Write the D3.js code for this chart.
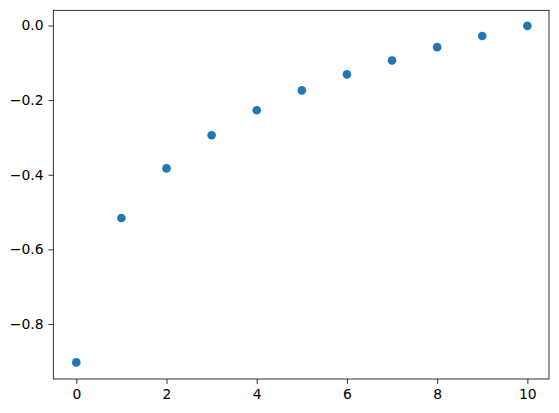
<!DOCTYPE html>
<html>
<head>
<meta charset="utf-8">
<script src="https://cdn.jsdelivr.net/npm/d3@7"></script>
<style>
  body { margin: 0; background: #fff; }
  svg { display: block; }
  text { font-family: "DejaVu Sans", sans-serif; font-size: 13.9px; fill: #000; }
</style>
</head>
<body>
<div id="chart"></div>
<script>
// data
const xs = [0, 1, 2, 3, 4, 5, 6, 7, 8, 9, 10]
const ys = [-0.903, -0.516, -0.383, -0.294, -0.227, -0.174, -0.131, -0.094, -0.058, -0.028, -0.001]
const xTicks = [0, 2, 4, 6, 8, 10]
const yTicks = [0.0, -0.2, -0.4, -0.6, -0.8]

let width = 559
let height = 413
let m_left = 53.3, m_right = 549, m_top = 10.3, m_bottom = 379

var svg = d3.select("#chart")
    .append("svg")
    .attr("width", width)
    .attr("height", height)

var x = d3.scaleLinear().domain([-0.51, 10.48]).range([m_left, m_right])
var y = d3.scaleLinear().domain([-0.9475, 0.0407]).range([m_bottom, m_top])

const fmtY = d => d3.format(".1f")(d).replace("-", "\u2212")

// x axis
const xAxis = svg.append("g")
    .attr("transform", `translate(0,${m_bottom})`)
    .call(d3.axisBottom(x).tickValues(xTicks).tickSize(4.86).tickPadding(4.86).tickFormat(d3.format("d")))
xAxis.select(".domain").remove()
xAxis.selectAll("line").attr("stroke", "#000").attr("stroke-width", 0.8)
xAxis.selectAll("text").attr("font-size", null).attr("font-family", null)

// y axis
const yAxis = svg.append("g")
    .attr("transform", `translate(${m_left},0)`)
    .call(d3.axisLeft(y).tickValues(yTicks).tickSize(4.86).tickPadding(4.86).tickFormat(fmtY))
yAxis.select(".domain").remove()
yAxis.selectAll("line").attr("stroke", "#000").attr("stroke-width", 0.8)
yAxis.selectAll("text").attr("font-size", null).attr("font-family", null)

// points
svg.selectAll("circle.pt")
    .data(xs)
    .enter()
    .append("circle")
    .attr("class", "pt")
    .attr("cx", d => x(d))
    .attr("cy", (d, i) => y(ys[i]))
    .attr("r", 4.3)
    .attr("fill", "#1f77b4")

// frame
svg.append("rect")
    .attr("x", m_left)
    .attr("y", m_top)
    .attr("width", m_right - m_left)
    .attr("height", m_bottom - m_top)
    .attr("fill", "none")
    .attr("stroke", "#000")
    .attr("stroke-width", 0.8)
</script>
</body>
</html>
